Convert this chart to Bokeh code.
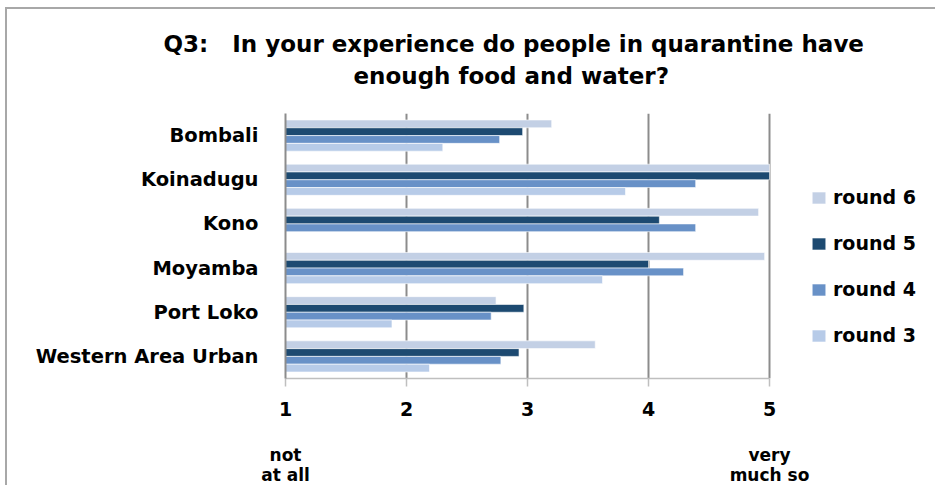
from bokeh.plotting import figure
from bokeh.models import Range1d, FixedTicker, Legend, LegendItem, ColumnDataSource, LinearAxis, Title
from bokeh.embed import file_html
from bokeh.resources import INLINE

# ---- data ----
regions = ["Bombali", "Koinadugu", "Kono", "Moyamba", "Port Loko", "Western Area Urban"]
round6 = [3.20, 5.00, 4.91, 4.96, 2.74, 3.56]
round5 = [2.96, 5.00, 4.09, 4.00, 2.97, 2.93]
round4 = [2.77, 4.39, 4.39, 4.29, 2.70, 2.78]
round3 = [2.30, 3.81, None, 3.62, 1.88, 2.19]
series_names = ["round 6", "round 5", "round 4", "round 3"]
series_colors = ["#C3D0E5", "#1D4A71", "#6891C7", "#B7CBE8"]
x_ticks = [1, 2, 3, 4, 5]
title_line1 = "Q3:\u00a0\u00a0 In your experience do people in quarantine have"
title_line2 = "enough food and water?"
scale_labels = {1: "not\nat all", 5: "very\nmuch so"}

FONT = "DejaVu Sans"
PX_PER_UNIT = 121.0
FRAME_W = 652  # frame also hosts the legend area on the right

p = figure(frame_width=FRAME_W, frame_height=265, output_backend="svg", toolbar_location=None, title=None,
           x_range=Range1d(1, 1 + FRAME_W / PX_PER_UNIT), y_range=Range1d(0, 6),
           min_border_left=278, min_border_right=0, min_border_top=104, min_border_bottom=0)
p.styles = {"margin-left": "7px", "margin-top": "9px",
            "box-shadow": "-2px -2px 0px 0px #A8A8A8"}
p.background_fill_color = "white"
p.border_fill_color = "white"
p.outline_line_color = None

n = len(regions)
centers = [n - 0.5 - i for i in range(n)]
offsets = [0.265, 0.088, -0.088, -0.265]
bar_h = 0.176
all_series = [round6, round5, round4, round3]

renderers = []
for vals, off, col, name in zip(all_series, offsets, series_colors, series_names):
    ys, rs = [], []
    for c, v in zip(centers, vals):
        if v is None:
            continue
        ys.append(c + off)
        rs.append(v)
    src = ColumnDataSource(dict(y=ys, right=rs))
    r = p.hbar(y="y", left=1, right="right", height=bar_h, source=src,
               fill_color=col, line_color="white", line_width=0.6)
    renderers.append((name, r))

# axes
p.xaxis.ticker = FixedTicker(ticks=x_ticks)
p.xaxis.bounds = (x_ticks[0], x_ticks[-1])
p.xaxis.major_label_text_font = FONT
p.xaxis.major_label_text_font_style = "bold"
p.xaxis.major_label_text_font_size = "19px"
p.xaxis.major_label_text_color = "black"
p.xaxis.axis_line_color = "#BFBFBF"
p.xaxis.axis_line_width = 1.5
p.xaxis.major_tick_line_color = "#BFBFBF"
p.xaxis.major_tick_line_width = 1.5
p.xaxis.major_tick_out = 8
p.xaxis.major_tick_in = 0
p.xaxis.minor_tick_line_color = None
p.xaxis.major_label_standoff = 15

scale_axis = LinearAxis(ticker=FixedTicker(ticks=list(scale_labels.keys())),
                        major_label_overrides=scale_labels,
                        axis_line_color=None, major_tick_line_color=None, minor_tick_line_color=None,
                        major_label_text_font=FONT, major_label_text_font_style="bold",
                        major_label_text_font_size="17px", major_label_text_color="black",
                        major_label_text_line_height=1.0,
                        major_label_standoff=20)
p.add_layout(scale_axis, "below")

p.yaxis.ticker = FixedTicker(ticks=centers)
p.yaxis.major_label_overrides = {c: r for c, r in zip(centers, regions)}
p.yaxis.major_label_text_font = FONT
p.yaxis.major_label_text_font_style = "bold"
p.yaxis.major_label_text_font_size = "19.5px"
p.yaxis.major_label_text_color = "black"
p.yaxis.axis_line_color = "#8C8C8C"
p.yaxis.axis_line_width = 2
p.yaxis.major_tick_line_color = None
p.yaxis.minor_tick_line_color = None
p.yaxis.major_label_standoff = 21

p.xgrid.ticker = FixedTicker(ticks=x_ticks[1:])
p.xgrid.grid_line_color = "#8C8C8C"
p.xgrid.grid_line_width = 2
p.ygrid.grid_line_color = None

# title: spacer, then two lines (first added sits closest to the plot)
p.add_layout(Title(text="\u00a0", standoff=7, text_font_size="12px", text_color="white"), "above")
p.add_layout(Title(text=title_line2, align="left", offset=68, standoff=4,
                   text_font=FONT, text_font_style="bold", text_font_size="23px",
                   text_color="black"), "above")
p.add_layout(Title(text=title_line1, align="left", offset=-122, standoff=4,
                   text_font=FONT, text_font_style="bold", text_font_size="23px",
                   text_color="black"), "above")

legend = Legend(items=[LegendItem(label=nm, renderers=[r]) for nm, r in renderers],
                location=(525, 32), padding=0, margin=0, spacing=24,
                glyph_width=17, glyph_height=15, label_standoff=6,
                label_text_font=FONT, label_text_font_style="bold", label_text_font_size="19px",
                label_text_color="black", label_height=22,
                border_line_color=None, background_fill_alpha=0)
p.add_layout(legend, "center")

open("out.html", "w").write(file_html(p, INLINE))
